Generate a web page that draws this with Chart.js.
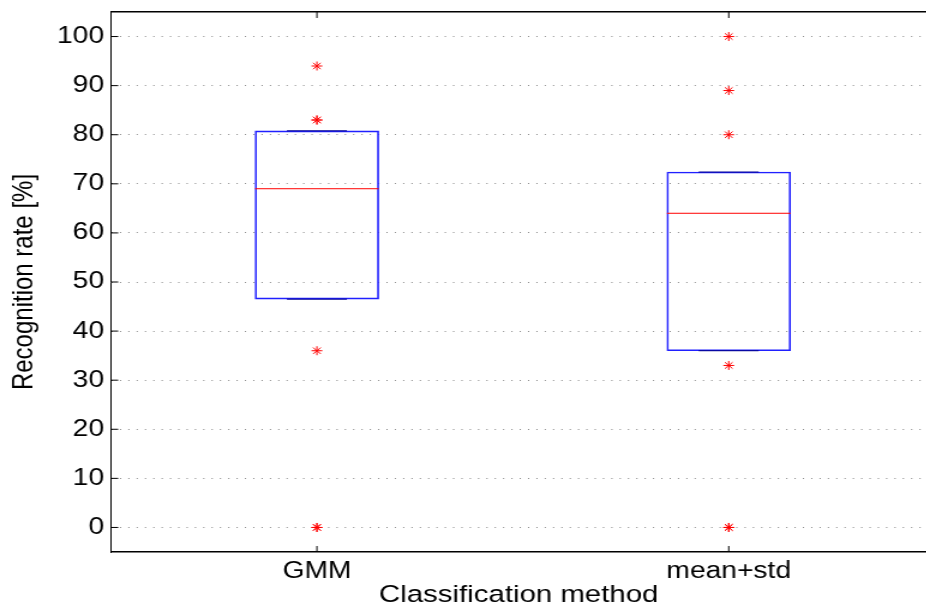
<!DOCTYPE html>
<html>
<head>
<meta charset="utf-8">
<script src="https://cdn.jsdelivr.net/npm/chart.js@4"></script>
<style>
  html, body { margin:0; padding:0; background:#fff; overflow:hidden; }
  /* the reference figure is stretched sideways, so draw narrow and widen */
  #wrap { width:772px; height:606px; transform:scaleX(1.2); transform-origin:0 0; }
</style>
</head>
<body>
<div id="wrap"><canvas id="chart" width="772" height="606"></canvas></div>
<script>
// Box plot: recognition rate per classification method
const categories = ['GMM', 'mean+std'];
const xPos = [1, 2];
const q1 = [46.5, 36];
const median = [69, 64];
const q3 = [80.8, 72.4];
const outliersGMM = [94, 83, 83, 36, 0, 0];
const outliersMeanStd = [100, 89, 80, 33, 0, 0];
const yTicks = [0, 10, 20, 30, 40, 50, 60, 70, 80, 90, 100];

const FONT = "'Liberation Sans', Arial, sans-serif";
const $ = id => document.getElementById(id);

const outlierPts = [
  ...outliersGMM.map(v => ({x: xPos[0], y: v})),
  ...outliersMeanStd.map(v => ({x: xPos[1], y: v}))
];

// small inward tick marks, like the matlab axes
const inTicks = {
  id: 'inTicks',
  afterDraw(chart){
    const ctx = chart.ctx, a = chart.chartArea;
    const xs = chart.scales.x, ys = chart.scales.y;
    ctx.save();
    ctx.setLineDash([]);
    ctx.strokeStyle = '#000';
    ctx.lineWidth = 1;
    ctx.beginPath();
    xPos.forEach(v => {
      const px = xs.getPixelForValue(v);
      ctx.moveTo(px, a.top); ctx.lineTo(px, a.top + 6);
      ctx.moveTo(px, a.bottom); ctx.lineTo(px, a.bottom - 6);
    });
    yTicks.forEach(v => {
      const py = ys.getPixelForValue(v);
      ctx.moveTo(a.left, py); ctx.lineTo(a.left + 6, py);
    });
    ctx.stroke();
    ctx.restore();
  }
};

new Chart($('chart').getContext('2d'), {
  type: 'bar',
  data: {
    datasets: [
      { type:'scatter', data: outlierPts, pointStyle:'star', pointRadius:4.5,
        borderColor:'#ff0000', backgroundColor:'#ff0000', borderWidth:1 },
      { type:'scatter', data: xPos.map((x, i) => ({x, y: median[i]})), pointStyle:'line',
        pointRadius:51.5, borderColor:'#ff0000', borderWidth:1 },
      { type:'scatter', data: xPos.flatMap((x, i) => [{x, y: q1[i]}, {x, y: q3[i]}]), pointStyle:'line',
        pointRadius:25, borderColor:'#00008b', borderWidth:1 },
      { type:'bar', data: xPos.map((x, i) => ({x, y: [q1[i], q3[i]]})), barThickness:103,
        borderColor:'#2020ff', backgroundColor:'rgba(0,0,0,0)', borderWidth:1, borderSkipped:false }
    ]
  },
  options: {
    responsive: false,
    animation: false,
    events: [],
    layout: { autoPadding:false, padding: 0 },
    plugins: { legend:{display:false}, tooltip:{enabled:false} },
    scales: {
      x: {
        type:'linear', min:0.5, max:2.48, offset:false,
        afterBuildTicks: s => { s.ticks = xPos.map(v => ({value:v})); },
        afterFit: s => { s.height = 54; s.paddingLeft = 0; s.paddingRight = 0; },
        ticks: { callback:(v, i) => categories[i], font:{family:FONT, size:23.5}, color:'#000',
                 padding:5.2, maxRotation:0, autoSkip:false },
        grid: { display:false, drawTicks:false },
        border: { display:true, color:'#000', width:1.5 },
        title: { display:true, text:'Classification method', color:'#000',
                 font:{family:FONT, size:24.5, lineHeight:0.8}, padding:{top:0, bottom:0.7} }
      },
      // top frame line only
      xTop: {
        type:'linear', position:'top', min:0.5, max:2.48, offset:false,
        afterFit: s => { s.height = 12; s.paddingLeft = 0; s.paddingRight = 0; },
        ticks: { display:false },
        grid: { display:false, drawTicks:false },
        border: { display:true, color:'#000', width:1.5 }
      },
      y: {
        min:-5, max:105,
        afterBuildTicks: s => { s.ticks = yTicks.map(v => ({value:v})); },
        afterFit: s => { s.width = 92.5; s.paddingTop = 0; s.paddingBottom = 0; },
        ticks: { font:{family:FONT, size:23.5}, color:'#000', padding:5.8 },
        grid: { color:'#8a8a8a', lineWidth:1, drawTicks:false },
        border: { display:true, color:'#000', width:1, dash:[1, 5.94] },
        title: { display:true, text:'Recognition rate [%]', color:'#000',
                 font:{family:FONT, size:24}, padding:{top:5.6, bottom:0} }
      }
    }
  },
  plugins: [inTicks]
});
</script>
</body>
</html>
